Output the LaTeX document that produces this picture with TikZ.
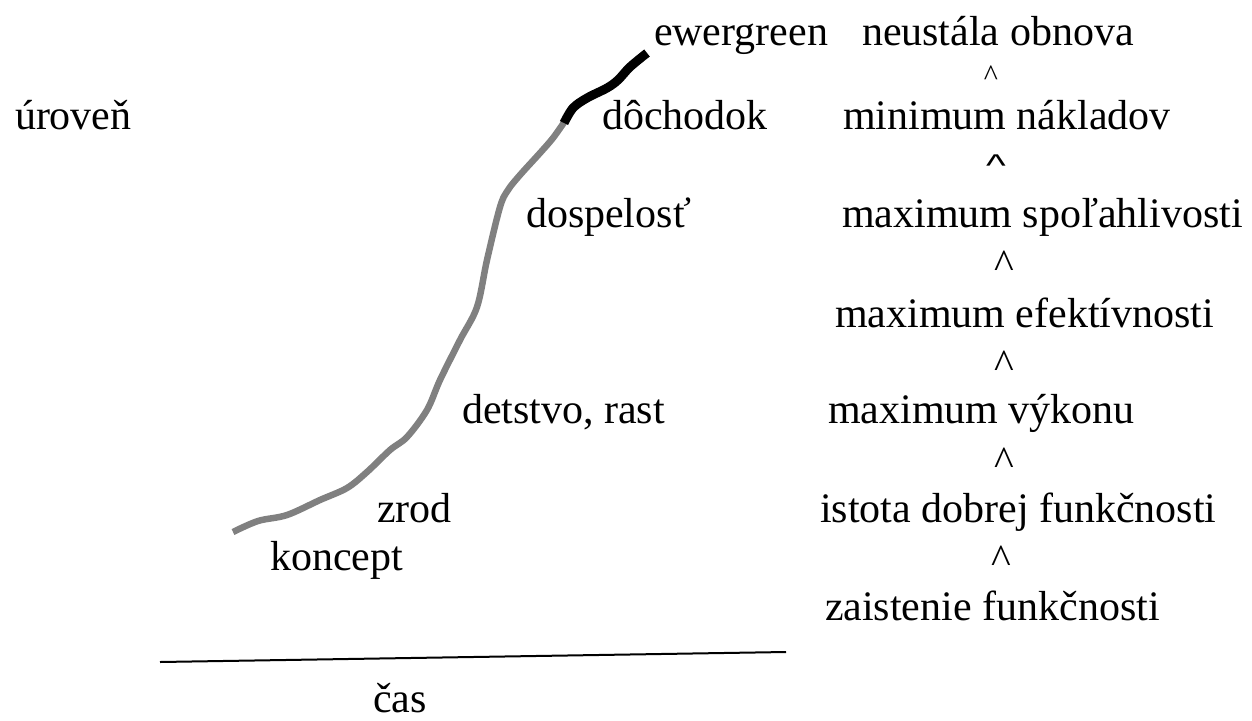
\documentclass[tikz,border=0pt]{standalone}
\usepackage{fontspec}
\setmainfont{Liberation Serif}
\newfontfamily\caretsans{Liberation Sans}
\begin{document}
\begin{tikzpicture}[x=1pt,y=-1pt,
  every node/.style={inner sep=0pt, outer sep=0pt, font=\fontsize{42}{50}\selectfont},
  lbl/.style={anchor=base west},
  caretmark/.style={anchor=base},
  greyline/.style={draw=gray, line width=6.5pt, line cap=butt, line join=round},
  blackline/.style={draw=black, line width=9pt, line cap=butt, line join=round},
  axis/.style={draw=black, line width=2pt}]
\useasboundingbox (0,0) rectangle (1252,720);
\fill[white] (0,0) rectangle (1252,720);
% left labels
\node[lbl] (uroven) at (15,129) {úroveň};
\node[lbl] (ewer) at (654,45) {ewergreen};
\node[lbl] (doch) at (602,129) {dôchodok};
\node[lbl] (dosp) at (526,227) {dospelosť};
\node[lbl] (dets) at (462,423) {detstvo, rast};
\node[lbl] (zrod) at (377,522) {zrod};
\node[lbl] (konc) at (270,570) {koncept};
\node[lbl] (cas) at (373,712) {čas};
% right column
\node[lbl] (r1) at (862,45) {neustála obnova};
\node[lbl] (r2) at (843,129) {minimum nákladov};
\node[lbl] (r3) at (842,227) {maximum spoľahlivosti};
\node[lbl] (r4) at (835,327) {maximum efektívnosti};
\node[lbl] (r5) at (828,423) {maximum výkonu};
\node[lbl] (r6) at (820,522) {istota dobrej funkčnosti};
\node[lbl] (r7) at (825,620) {zaistenie funkčnosti};
% carets
\node[caretmark, font=\fontsize{30}{36}\selectfont] (c1) at (991,85) {\textasciicircum};
\node[caretmark, font=\fontsize{42}{50}\selectfont\caretsans] (c2) at (996,176) {\scalebox{1}[0.75]{\textasciicircum}};
\node[caretmark] (c3) at (1004,278) {\textasciicircum};
\node[caretmark] (c4) at (1004,378) {\textasciicircum};
\node[caretmark] (c5) at (1004,475) {\textasciicircum};
\node[caretmark] (c6) at (1001,573) {\textasciicircum};
% axis
\coordinate (axL) at (160,662);
\coordinate (axR) at (786,652);
\draw[axis] (axL) -- (axR);
% life curve
\draw[greyline] plot[smooth, tension=0.55] coordinates {
  (233,532) (258,521) (287,515) (320,500) (347,488) (367,472) (390,450)
  (407,437) (427,410) (440,380) (460,340) (477,307) (487,260) (500,207)
  (508,190) (520,175) (540,153) (553,138) (565,121)};
\draw[blackline] plot[smooth, tension=0.55] coordinates {
  (564,123) (573,108) (587,98) (607,88) (618,80) (630,67) (647,53)};
\end{tikzpicture}
\end{document}
